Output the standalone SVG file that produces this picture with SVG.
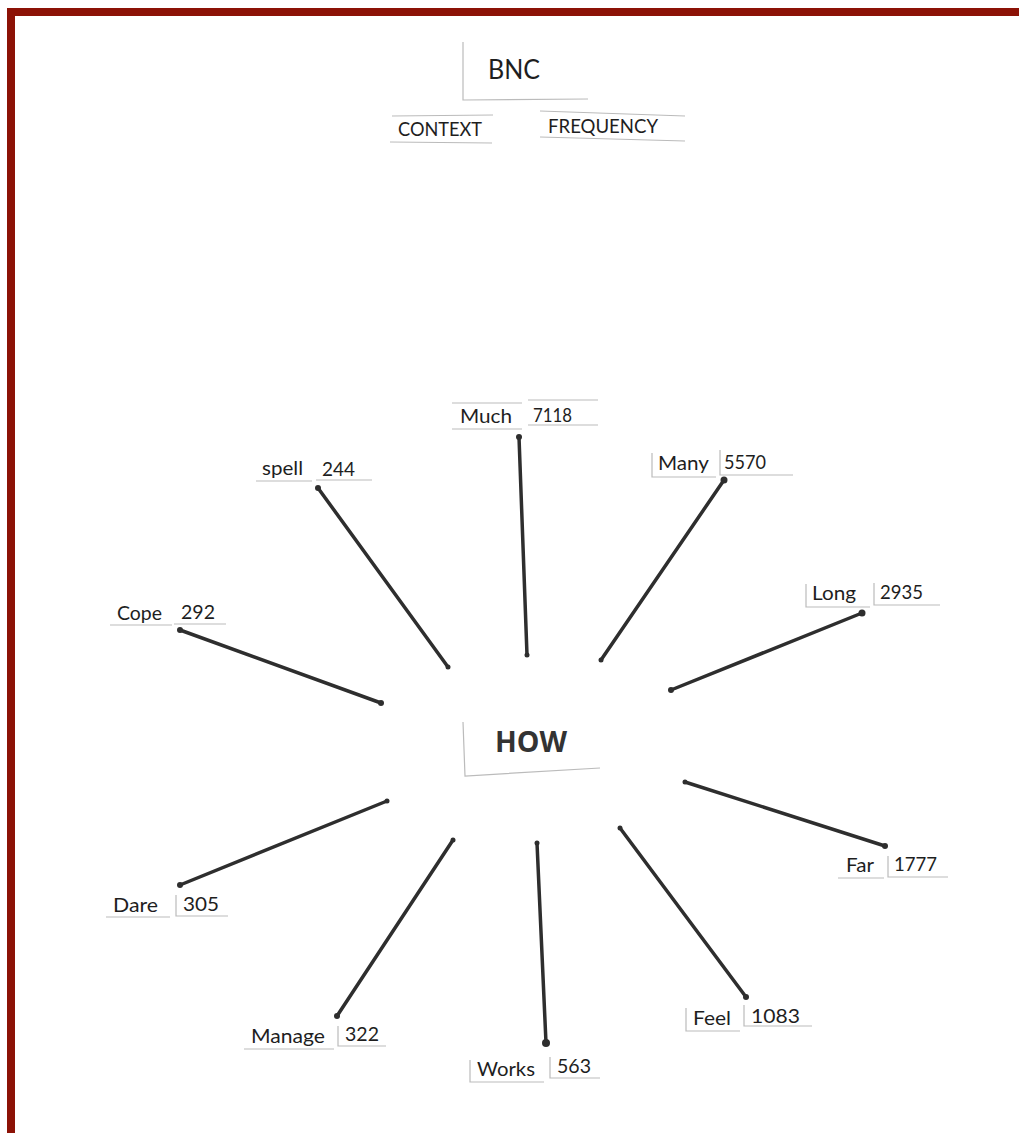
<svg xmlns="http://www.w3.org/2000/svg" width="1019" height="1133" viewBox="0 0 1019 1133">
<style>
.t{font-family:Lato,"Liberation Sans",sans-serif;font-size:20px;fill:#1e1e1e}
.h{font-family:"Open Sans",Lato,sans-serif;font-size:28px;font-weight:bold;fill:#333}
.e{stroke:#bbb;stroke-width:1.2;fill:none}
.c{stroke:#2e2e2e;stroke-width:3.5;stroke-linecap:round;fill:none}
.d{fill:#2e2e2e}
</style>
<rect width="1019" height="1133" fill="#fff"/>
<path d="M7 8H1019V16H15V1133H7Z" fill="#8c1206"/>
<g id="bnc">
<path class="e" d="M463 42V100L588 99"/>
<text class="t" x="488" y="79" style="font-size:26px" textLength="52" lengthAdjust="spacingAndGlyphs">BNC</text>
</g>
<g id="context">
<path class="e" d="M392 116L493 115M390 142L492 143"/>
<text class="t" x="398" y="136" style="font-size:19px" textLength="84" lengthAdjust="spacingAndGlyphs">CONTEXT</text>
</g>
<g id="frequency">
<path class="e" d="M540 111L685 116M540 137L685 141"/>
<text class="t" x="548" y="133" style="font-size:19px" textLength="110" lengthAdjust="spacingAndGlyphs">FREQUENCY</text>
</g>
<g id="how">
<path class="e" d="M463 722L465 776L600 768"/>
<text class="h" x="495" y="752" textLength="72" lengthAdjust="spacingAndGlyphs">HOW</text>
</g>
<g id="connectors">
<path class="c" d="M519 437L527 655"/><circle class="d" cx="519" cy="437" r="3"/><circle class="d" cx="527" cy="655" r="2.5"/>
<path class="c" d="M724 480L601 660"/><circle class="d" cx="724" cy="480" r="3.5"/><circle class="d" cx="601" cy="660" r="2.5"/>
<path class="c" d="M318 488L448 667"/><circle class="d" cx="318" cy="488" r="3"/><circle class="d" cx="448" cy="667" r="2.5"/>
<path class="c" d="M180 630L381 703"/><circle class="d" cx="180" cy="630" r="3"/><circle class="d" cx="381" cy="703" r="3"/>
<path class="c" d="M862 613L671 690"/><circle class="d" cx="862" cy="613" r="3.5"/><circle class="d" cx="671" cy="690" r="3"/>
<path class="c" d="M685 782L885 846"/><circle class="d" cx="685" cy="782" r="2.5"/><circle class="d" cx="885" cy="846" r="3"/>
<path class="c" d="M620 828L746 997"/><circle class="d" cx="620" cy="828" r="2.5"/><circle class="d" cx="746" cy="997" r="3"/>
<path class="c" d="M537 843L546 1043"/><circle class="d" cx="537" cy="843" r="2.5"/><circle class="d" cx="546" cy="1043" r="4"/>
<path class="c" d="M453 840L337 1016"/><circle class="d" cx="453" cy="840" r="2.5"/><circle class="d" cx="337" cy="1016" r="3"/>
<path class="c" d="M387 801L180 885"/><circle class="d" cx="387" cy="801" r="2.5"/><circle class="d" cx="180" cy="885" r="3"/>
</g>
<g id="much">
<path class="e" d="M452 403H522M452 429H522M528 400H598M528 425H598"/>
<text class="t" x="460" y="423" textLength="52" lengthAdjust="spacingAndGlyphs">Much</text>
<text class="t" x="533" y="422" textLength="39" lengthAdjust="spacingAndGlyphs">7118</text>
</g>
<g id="many">
<path class="e" d="M652 453V477H716M720 450V475H793"/>
<text class="t" x="658" y="470" textLength="51" lengthAdjust="spacingAndGlyphs">Many</text>
<text class="t" x="724" y="469" textLength="42" lengthAdjust="spacingAndGlyphs">5570</text>
</g>
<g id="spell">
<path class="e" d="M256 481H312M316 480H372"/>
<text class="t" x="262" y="475" textLength="41" lengthAdjust="spacingAndGlyphs">spell</text>
<text class="t" x="322" y="476" textLength="33" lengthAdjust="spacingAndGlyphs">244</text>
</g>
<g id="cope">
<path class="e" d="M110 625H172M174 624H226"/>
<text class="t" x="117" y="620" textLength="45" lengthAdjust="spacingAndGlyphs">Cope</text>
<text class="t" x="181" y="619" textLength="34" lengthAdjust="spacingAndGlyphs">292</text>
</g>
<g id="long">
<path class="e" d="M806 584V607H870M874 583V605H940"/>
<text class="t" x="812" y="600" textLength="44" lengthAdjust="spacingAndGlyphs">Long</text>
<text class="t" x="880" y="599" textLength="43" lengthAdjust="spacingAndGlyphs">2935</text>
</g>
<g id="far">
<path class="e" d="M838 878H884M888 856V877H948"/>
<text class="t" x="846" y="872" textLength="28" lengthAdjust="spacingAndGlyphs">Far</text>
<text class="t" x="894" y="871" textLength="43" lengthAdjust="spacingAndGlyphs">1777</text>
</g>
<g id="dare">
<path class="e" d="M106 917H170M176 895V916H228"/>
<text class="t" x="113" y="912" textLength="45" lengthAdjust="spacingAndGlyphs">Dare</text>
<text class="t" x="183" y="911" textLength="36" lengthAdjust="spacingAndGlyphs">305</text>
</g>
<g id="manage">
<path class="e" d="M244 1049H334M338 1026V1046H386"/>
<text class="t" x="251" y="1043" textLength="74" lengthAdjust="spacingAndGlyphs">Manage</text>
<text class="t" x="345" y="1041" textLength="34" lengthAdjust="spacingAndGlyphs">322</text>
</g>
<g id="works">
<path class="e" d="M470 1060V1082H544M550 1057V1078H600"/>
<text class="t" x="477" y="1076" textLength="58" lengthAdjust="spacingAndGlyphs">Works</text>
<text class="t" x="557" y="1073" textLength="34" lengthAdjust="spacingAndGlyphs">563</text>
</g>
<g id="feel">
<path class="e" d="M686 1008V1031H740M744 1005V1026H812"/>
<text class="t" x="693" y="1025" textLength="38" lengthAdjust="spacingAndGlyphs">Feel</text>
<text class="t" x="751" y="1023" textLength="49" lengthAdjust="spacingAndGlyphs">1083</text>
</g>
</svg>
